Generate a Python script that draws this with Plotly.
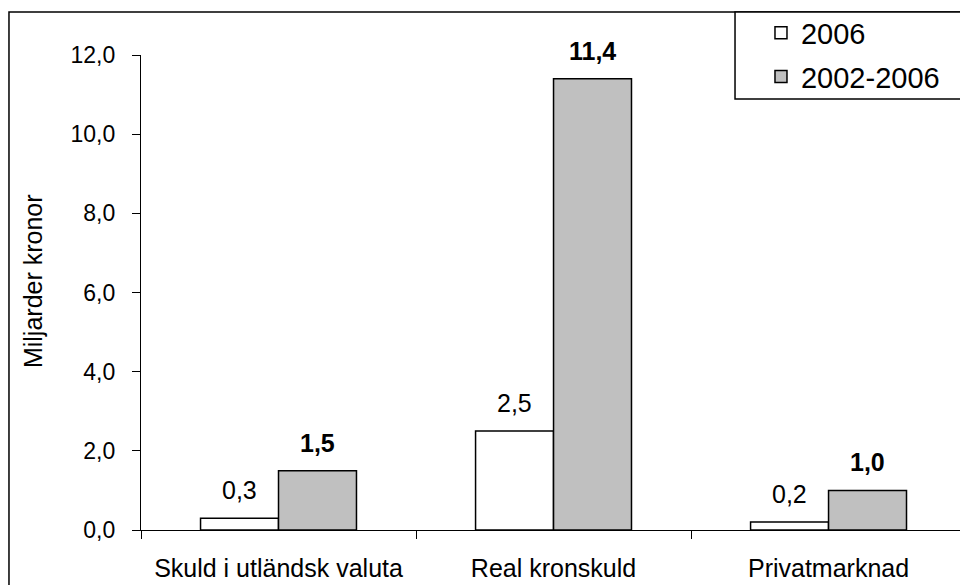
import plotly.graph_objects as go

# Categories and series values (miljarder kronor)
categories = ["Skuld i utländsk valuta", "Real kronskuld", "Privatmarknad"]
series_names = ["2006", "2002-2006"]
values_2006 = [0.3, 2.5, 0.2]
values_2002_2006 = [1.5, 11.4, 1.0]
y_ticks = [0, 2, 4, 6, 8, 10, 12]
y_title = "Miljarder kronor"

FONT = "Liberation Sans"
fills = ["#FFFFFF", "#C0C0C0"]

fig = go.Figure()
for name, vals, fill in zip(series_names, [values_2006, values_2002_2006], fills):
    fig.add_trace(go.Bar(
        x=categories, y=vals, name=name, legendgroup=name,
        marker=dict(color=fill, line=dict(color="#000000", width=1.5)),
        hoverinfo="skip",
    ))

# Value labels above the bars; the longer period is shown in bold
def fmt(v):
    return f"{v:.1f}".replace(".", ",")

BAR_HALF = 39
for i, cat in enumerate(categories):
    fig.add_annotation(x=cat, y=values_2006[i], text=fmt(values_2006[i]),
                       xshift=-BAR_HALF, yshift=28, showarrow=False,
                       yanchor="middle", font=dict(size=25, color="#000"))
    fig.add_annotation(x=cat, y=values_2002_2006[i], text="<b>" + fmt(values_2002_2006[i]) + "</b>",
                       xshift=BAR_HALF, yshift=28, showarrow=False,
                       yanchor="middle", font=dict(size=25, color="#000"))

# Vertical axis title
fig.add_annotation(xref="paper", yref="paper", x=-0.1319, y=0.524,
                   text=y_title, textangle=-90, showarrow=False,
                   xanchor="center", yanchor="middle", font=dict(size=25, color="#000"))

# Outer chart frame and legend frame
fig.add_shape(type="rect", xref="paper", yref="paper",
              x0=-0.1612, x1=1.05, y0=-0.25, y1=1.0905,
              line=dict(color="#000", width=1.5), layer="below")
fig.add_shape(type="rect", xref="paper", yref="paper",
              x0=0.7253, x1=1.05, y0=0.9074, y1=1.0905,
              line=dict(color="#000", width=1.5), fillcolor="#FFFFFF", layer="below")

fig.update_layout(
    width=960, height=585,
    margin=dict(l=141, r=0, t=55, b=55),
    paper_bgcolor="#FFFFFF", plot_bgcolor="#FFFFFF",
    font=dict(family=FONT, size=23, color="#000"),
    separators=", ",
    barmode="group", bargap=0.433, bargroupgap=0,
    showlegend=True,
    legend=dict(x=0.757, y=1.1, xanchor="left", yanchor="top",
                bgcolor="rgba(0,0,0,0)", borderwidth=0,
                font=dict(size=29), traceorder="grouped", tracegroupgap=3),
    xaxis=dict(range=[-0.5, 2.478], showline=True, linecolor="#000", linewidth=1.2,
               ticks="outside", ticklen=8, tickcolor="#000", tickwidth=1.2,
               tickson="boundaries", showgrid=False, zeroline=False,
               tickfont=dict(size=25),
               ticklabelstandoff=16, fixedrange=True),
    yaxis=dict(range=[0, 12], tickvals=y_ticks, tickformat=".1f",
               showline=True, linecolor="#000", linewidth=1.2,
               ticks="outside", ticklen=8, tickcolor="#000", tickwidth=1.2,
               showgrid=False, zeroline=False, ticklabelstandoff=12,
               tickfont=dict(size=23), fixedrange=True),
)

fig.write_html("out.html")
